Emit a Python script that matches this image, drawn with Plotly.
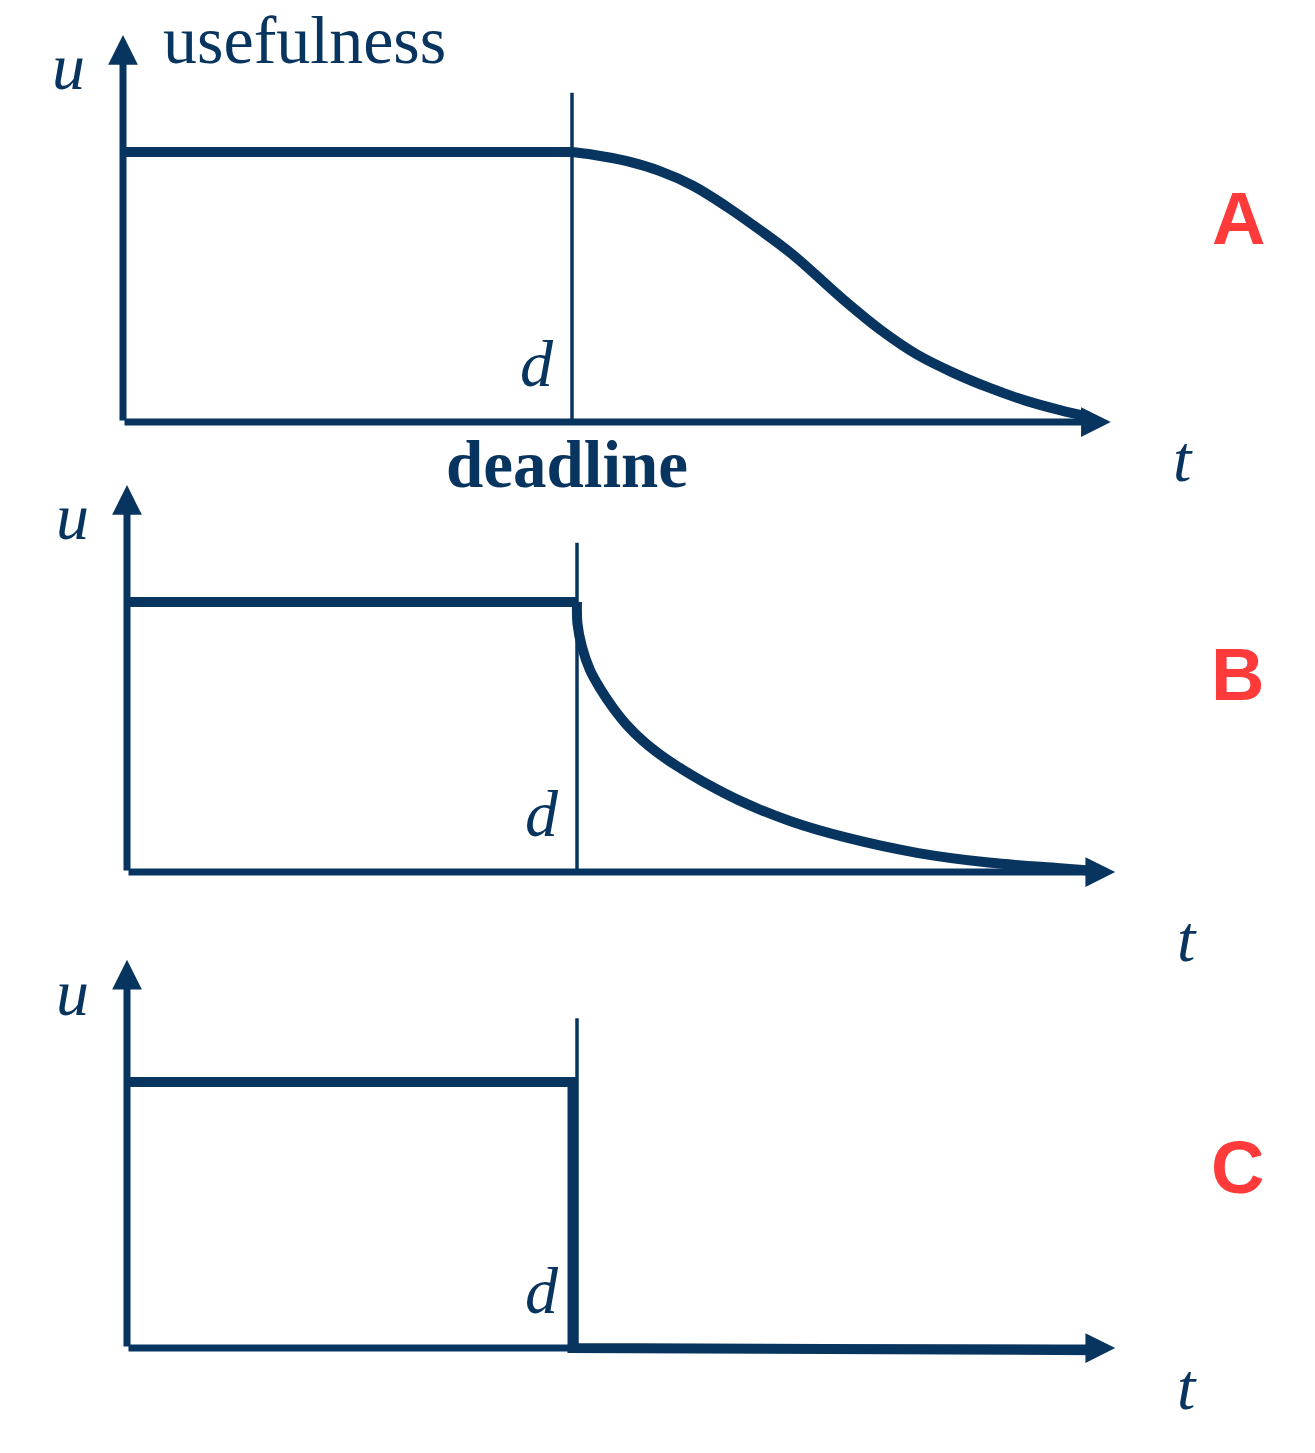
import plotly.graph_objects as go

# ---------------- data ----------------
deadline = 5.0
u_level = 1.0

# panel A : smooth (sigmoid-like) decay after the deadline
t_a_flat = [0.0, 5.0]
u_a_flat = [1.0, 1.0]
t_a_curve = [5.0, 5.234, 5.612, 5.980, 6.347, 6.726, 7.094, 7.461, 8.051,
             8.441, 8.842, 9.243, 9.644, 10.033, 10.434, 10.757]
u_a_curve = [1.0, 0.990, 0.966, 0.929, 0.875, 0.797, 0.711, 0.619, 0.445,
             0.340, 0.250, 0.183, 0.127, 0.081, 0.044, 0.019]

# panel B : steep (exponential-like) decay after the deadline
t_b_flat = [0.0, 5.0]
u_b_flat = [1.0, 1.0]
t_b_curve = [5.0, 5.005, 5.055, 5.144, 5.256, 5.403, 5.552, 5.737, 5.922, 6.108,
             6.403, 6.874, 7.389, 7.986, 8.778, 9.573, 10.367, 10.763]
u_b_curve = [1.0, 0.920, 0.834, 0.748, 0.680, 0.607, 0.545, 0.484, 0.435, 0.393,
             0.334, 0.254, 0.186, 0.128, 0.071, 0.035, 0.014, 0.004]

# panel C : hard deadline (step to zero)
t_c = [0.0, 4.95, 4.95, 10.8]
u_c = [1.0, 1.0, 0.0, -0.008]

# axis extents and deadline marker heights
t_axis_end = [11.0, 10.98, 10.98]
u_axis_end = [1.433, 1.433, 1.46]
deadline_top = [1.219, 1.219, 1.24]

panel_letters = ["A", "B", "C"]

NAVY = "#083460"
RED = "#FF3A3A"

# ---------------- layout geometry (pixel mapping per panel) ----------------
W, H = 1315, 1453
# origin in px, px per t unit, px per u unit
geom = [(123, 422, 89.8, 270), (127, 872, 90, 270), (127, 1348, 90, 266)]

fig = go.Figure()
layout_axes = {}
for i, (ox, oy, sx, sy) in enumerate(geom):
    n = "" if i == 0 else str(i + 1)
    xr = [-ox / sx, (W - ox) / sx]
    yr = [(oy - H) / sy, oy / sy]
    layout_axes["xaxis" + n] = dict(domain=[0, 1], range=xr, visible=False,
                                     anchor="y" + n, fixedrange=True)
    layout_axes["yaxis" + n] = dict(domain=[0, 1], range=yr, visible=False,
                                     anchor="x" + n, fixedrange=True)

def ax(i):
    n = "" if i == 0 else str(i + 1)
    return "x" + n, "y" + n

def line(i, t, u, width, shape="linear"):
    xa, ya = ax(i)
    fig.add_trace(go.Scatter(x=t, y=u, mode="lines", xaxis=xa, yaxis=ya,
                             line=dict(color=NAVY, width=width, shape=shape,
                                       smoothing=1.0),
                             hoverinfo="skip", showlegend=False))

# deadline markers (thin)
for i in range(3):
    line(i, [deadline, deadline], [0, deadline_top[i]], 3.5)

annotations = []
# axis arrows
for i in range(3):
    xa, ya = ax(i)
    annotations.append(dict(x=t_axis_end[i], y=0, ax=0, ay=0, xref=xa, yref=ya,
                            axref=xa, ayref=ya, text="", showarrow=True,
                            arrowhead=2, arrowsize=0.85, arrowwidth=7,
                            arrowcolor=NAVY))
    annotations.append(dict(x=0, y=u_axis_end[i], ax=0, ay=0, xref=xa, yref=ya,
                            axref=xa, ayref=ya, text="", showarrow=True,
                            arrowhead=2, arrowsize=0.85, arrowwidth=7,
                            arrowcolor=NAVY))

# curves
line(0, t_a_flat, u_a_flat, 10)
line(0, t_a_curve, u_a_curve, 10, "spline")
line(1, t_b_flat, u_b_flat, 10)
line(1, t_b_curve, u_b_curve, 10, "spline")
line(2, t_c, u_c, 10)

SERIF = "Liberation Serif"

def label(i, t, u, text, size, color=NAVY, family=SERIF, yanchor="middle"):
    xa, ya = ax(i)
    annotations.append(dict(x=t, y=u, xref=xa, yref=ya, text=text,
                            showarrow=False, xanchor="center", yanchor=yanchor,
                            font=dict(family=family, size=size, color=color)))

# u labels
label(0, -0.61, 1.318, "<i>u</i>", 66)
label(1, -0.611, 1.315, "<i>u</i>", 66)
label(2, -0.611, 1.335, "<i>u</i>", 66)
# d labels
label(0, 4.61, 0.215, "<i>d</i>", 66)
label(1, 4.61, 0.215, "<i>d</i>", 66)
label(2, 4.61, 0.215, "<i>d</i>", 66)
# t labels
label(0, 11.8, -0.137, "<i>t</i>", 66)
label(1, 11.78, -0.248, "<i>t</i>", 66)
label(2, 11.78, -0.143, "<i>t</i>", 66)
# words
label(0, 2.02, geom[0][1] / geom[0][3], "usefulness", 68, yanchor="top")
label(0, 4.944, -0.156, "<b>deadline</b>", 67)
# panel letters
label(0, 12.42, 0.752, "<b>A</b>", 74, RED, "Liberation Sans")
label(1, 12.34, 0.733, "<b>B</b>", 74, RED, "Liberation Sans")
label(2, 12.34, 0.68, "<b>C</b>", 74, RED, "Liberation Sans")

fig.update_layout(width=W, height=H, autosize=False,
                  margin=dict(l=0, r=0, t=0, b=0, pad=0),
                  paper_bgcolor="white", plot_bgcolor="rgba(0,0,0,0)",
                  annotations=annotations, **layout_axes)

fig.write_html("out.html", post_script="document.body.style.margin='0';",
               config={"displayModeBar": False})
